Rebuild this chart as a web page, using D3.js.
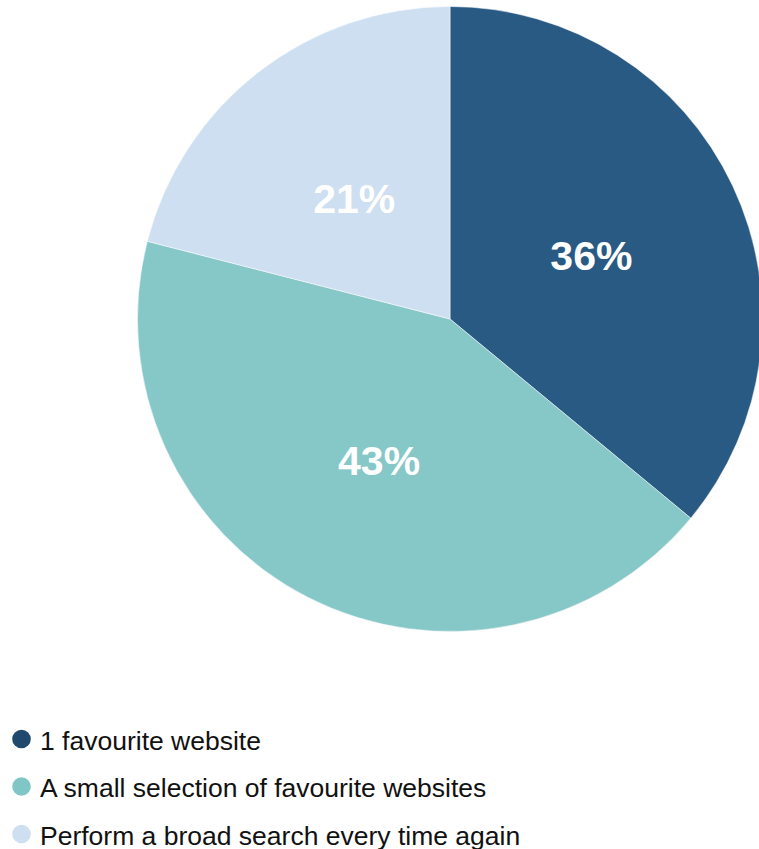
<!DOCTYPE html>
<html>
<head>
<meta charset="utf-8">
<script src="https://cdn.jsdelivr.net/npm/d3@7"></script>
<style>
  html, body { margin: 0; padding: 0; background: #fff; }
  svg { display: block; font-family: "Liberation Sans", Arial, sans-serif; }
</style>
</head>
<body>
<svg id="chart" width="759" height="849"></svg>
<script>
// Share of respondents by how they look for websites
const categories = [
  "1 favourite website",
  "A small selection of favourite websites",
  "Perform a broad search every time again"
];
const values = [36, 43, 21];
const sliceColors = ["#285a84", "#86c7c8", "#cddff0"];
const dotColors = ["#1f4a6e", "#80c6c6", "#cddff0"];

const svg = d3.select("#chart");
const cx = 450, cy = 319, radius = 312.5;

const pie = d3.pie().sort(null).value(d => d.value);
const arcs = pie(categories.map((c, i) => ({ name: c, value: values[i], i })));
const arc = d3.arc().innerRadius(0).outerRadius(radius);
const labelArc = d3.arc().innerRadius(radius * 0.5).outerRadius(radius * 0.5);

const g = svg.append("g").attr("transform", `translate(${cx},${cy})`);

g.selectAll("path.slice")
  .data(arcs)
  .join("path")
  .attr("class", "slice")
  .attr("d", arc)
  .attr("fill", d => sliceColors[d.data.i])
  .attr("stroke", "rgba(255,255,255,0.5)")
  .attr("stroke-width", 1);

g.selectAll("text.pct")
  .data(arcs)
  .join("text")
  .attr("class", "pct")
  .attr("transform", d => `translate(${labelArc.centroid(d)})`)
  .attr("text-anchor", "middle")
  .attr("dy", "0.42em")
  .attr("fill", "#fff")
  .attr("font-weight", "bold")
  .attr("font-size", 41)
  .text(d => d.data.value + "%");

// Legend
const legend = svg.append("g").attr("transform", "translate(0,739)");
const rows = legend.selectAll("g.row")
  .data(categories)
  .join("g")
  .attr("class", "row")
  .attr("transform", (d, i) => `translate(0,${i * 47.5})`);

rows.append("circle")
  .attr("cx", 21.5)
  .attr("cy", 0)
  .attr("r", 9.3)
  .attr("fill", (d, i) => dotColors[i]);

rows.append("text")
  .attr("x", 40)
  .attr("y", 10.5)
  .attr("font-size", 26.5)
  .attr("fill", "#111")
  .text(d => d);
</script>
</body>
</html>
